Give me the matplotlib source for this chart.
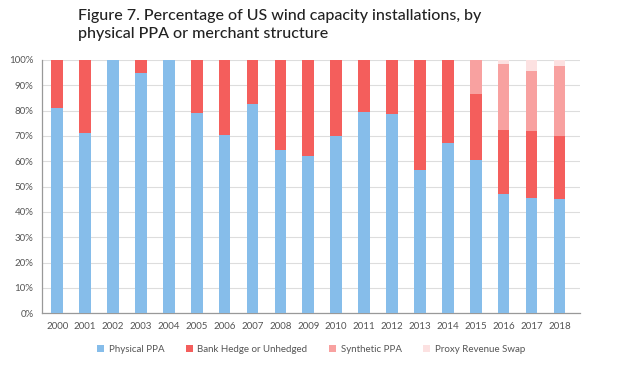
import matplotlib.pyplot as plt
import numpy as np

plt.rcParams['font.family'] = ['Lato', 'DejaVu Sans']

years = [str(y) for y in range(2000, 2019)]
physical = [81, 71, 100, 95, 100, 79, 70.5, 82.5, 64.5, 62, 70, 79.5, 78.5, 56.5, 67, 60.5, 47, 45.5, 45]
bank = [19, 29, 0, 5, 0, 21, 29.5, 17.5, 35.5, 38, 30, 20.5, 21.5, 43.5, 33, 26, 25.5, 26.5, 25]
synthetic = [0, 0, 0, 0, 0, 0, 0, 0, 0, 0, 0, 0, 0, 0, 0, 13.5, 26, 23.5, 27.5]
proxy = [0, 0, 0, 0, 0, 0, 0, 0, 0, 0, 0, 0, 0, 0, 0, 0, 1.5, 4.5, 2.5]

series = [
    ('Physical PPA', physical, '#86BDEA'),
    ('Bank Hedge or Unhedged', bank, '#F45E5C'),
    ('Synthetic PPA', synthetic, '#F8A1A0'),
    ('Proxy Revenue Swap', proxy, '#FCE1E1'),
]

fig = plt.figure(figsize=(6.24, 3.65), dpi=100)
ax = fig.add_axes([0.067, 0.142, 0.863, 0.694])

x = np.arange(len(years))
bottom = np.zeros(len(years))
for name, vals, color in series:
    vals = np.array(vals, dtype=float)
    ax.bar(x, vals, 0.42, bottom=bottom, color=color, label=name, zorder=3)
    bottom += vals

ax.set_ylim(0, 100)
ax.set_xlim(-0.55, len(years) - 0.25)
ax.set_yticks(range(0, 101, 10))
ax.set_yticklabels([f'{v}%' for v in range(0, 101, 10)])
ax.set_xticks(x)
ax.set_xticklabels(years)
ax.tick_params(axis='both', length=0, labelsize=7, colors='#555555', pad=6)
ax.grid(axis='y', color='#dddddd', linewidth=0.8, zorder=0)
for s in ['top', 'right']:
    ax.spines[s].set_visible(False)
for s in ['left', 'bottom']:
    ax.spines[s].set_color('#999999')
    ax.spines[s].set_linewidth(0.9)

fig.text(0.125, 0.975, 'Figure 7. Percentage of US wind capacity installations, by\nphysical PPA or merchant structure',
         fontsize=11.5, fontweight='medium', color='#222222', va='top', ha='left', linespacing=1.35)

ax.legend(loc='upper center', bbox_to_anchor=(0.5, -0.09), ncol=4, frameon=False,
          fontsize=7, handlelength=0.7, handleheight=0.7, columnspacing=2.2,
          handletextpad=0.5, labelcolor='#555555')

fig.savefig('out.png', dpi=100, facecolor='white')
